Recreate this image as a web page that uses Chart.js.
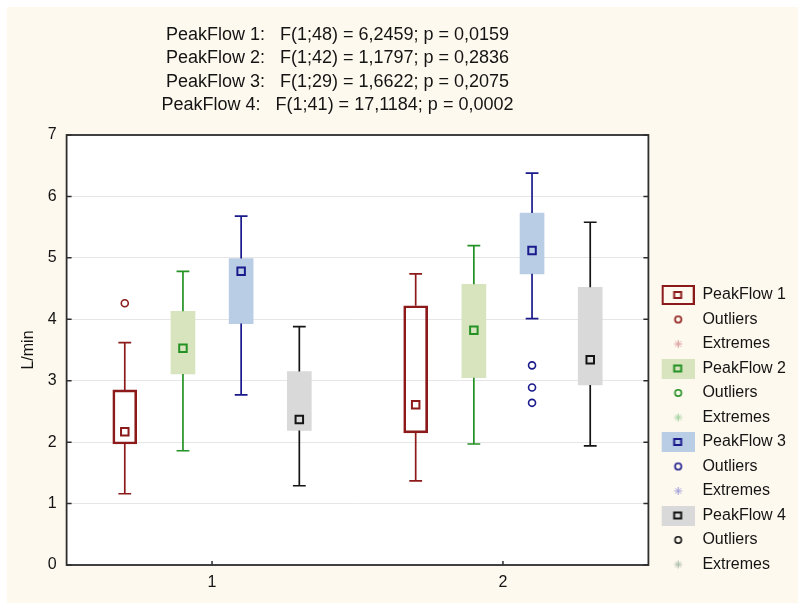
<!DOCTYPE html>
<html>
<head>
<meta charset="utf-8">
<script src="https://cdn.jsdelivr.net/npm/chart.js@4/dist/chart.umd.min.js"></script>
<style>
  html, body { margin: 0; padding: 0; background: #ffffff; }
  #wrap { width: 798px; height: 603px; }
</style>
</head>
<body>
<div id="wrap"><canvas id="c" width="798" height="603"></canvas></div>
<script>
// ---- data ----
const categories = ['1', '2'];
const seriesNames = ['PeakFlow 1', 'PeakFlow 2', 'PeakFlow 3', 'PeakFlow 4'];
const titleLines = [
  'PeakFlow 1:   F(1;48) = 6,2459; p = 0,0159',
  'PeakFlow 2:   F(1;42) = 1,1797; p = 0,2836',
  'PeakFlow 3:   F(1;29) = 1,6622; p = 0,2075',
  'PeakFlow 4:   F(1;41) = 17,1184; p = 0,0002'
];
const yTicks = [0, 1, 2, 3, 4, 5, 6, 7];

const pf1Min = [1.16, 1.37];
const pf1Q1  = [1.97, 2.15];
const pf1Med = [2.17, 2.61];
const pf1Q3  = [2.85, 4.22];
const pf1Max = [3.62, 4.74];
const pf1Out = [[4.26], []];

const pf2Min = [1.86, 1.97];
const pf2Q1  = [3.11, 3.05];
const pf2Med = [3.53, 3.82];
const pf2Q3  = [4.13, 4.57];
const pf2Max = [4.78, 5.20];
const pf2Out = [[], []];

const pf3Min = [2.77, 4.01];
const pf3Q1  = [3.93, 4.74];
const pf3Med = [4.78, 5.12];
const pf3Q3  = [4.99, 5.73];
const pf3Max = [5.68, 6.38];
const pf3Out = [[], [3.25, 2.89, 2.64]];

const pf4Min = [1.29, 1.94];
const pf4Q1  = [2.19, 2.93];
const pf4Med = [2.37, 3.34];
const pf4Q3  = [3.15, 4.52];
const pf4Max = [3.88, 5.58];
const pf4Out = [[], []];

// ---- styling / layout ----
const FONT = "'Liberation Sans', Arial, sans-serif";
const CREAM = '#fef9ee';
const TEXT = '#141414';
const lineColors = ['#8c1a1a', '#249124', '#1a1a8c', '#141414'];
const boxFills   = ['rgba(0,0,0,0)', '#d7e4be', '#b9cde5', '#d9d9d9'];
const boxBorders = [2, 0, 0, 0];
const extremeColors = ['#d9a0a0', '#9fd09f', '#a0a0d9', '#a8bca8'];
const groupOffsets = [-0.3, -0.1, 0.1, 0.3];
const capHalf = 0.022;

const stats = [
  {min: pf1Min, q1: pf1Q1, med: pf1Med, q3: pf1Q3, max: pf1Max, out: pf1Out},
  {min: pf2Min, q1: pf2Q1, med: pf2Med, q3: pf2Q3, max: pf2Max, out: pf2Out},
  {min: pf3Min, q1: pf3Q1, med: pf3Med, q3: pf3Q3, max: pf3Max, out: pf3Out},
  {min: pf4Min, q1: pf4Q1, med: pf4Med, q3: pf4Q3, max: pf4Max, out: pf4Out}
];

const datasets = [];
stats.forEach((s, k) => {
  const xs = categories.map((c, i) => i + 1 + groupOffsets[k]);
  // box (Q1..Q3)
  datasets.push({
    type: 'bar', label: seriesNames[k], order: 3, grouped: false,
    data: xs.map((x, i) => ({x: x, y: [s.q1[i], s.q3[i]]})),
    backgroundColor: boxFills[k], borderColor: lineColors[k],
    borderWidth: boxBorders[k], borderSkipped: false, barThickness: 24
  });
  // whiskers + caps
  const w = [];
  xs.forEach((x, i) => {
    w.push({x: x, y: s.min[i]}, {x: x, y: s.q1[i]}, {x: x, y: null});
    w.push({x: x, y: s.q3[i]}, {x: x, y: s.max[i]}, {x: x, y: null});
    w.push({x: x - capHalf, y: s.max[i]}, {x: x + capHalf, y: s.max[i]}, {x: x, y: null});
    w.push({x: x - capHalf, y: s.min[i]}, {x: x + capHalf, y: s.min[i]}, {x: x, y: null});
  });
  datasets.push({
    type: 'line', label: seriesNames[k] + ' whiskers', order: 2, data: w,
    borderColor: lineColors[k], borderWidth: 1.7, pointRadius: 0, spanGaps: false,
    fill: false, tension: 0
  });
  // median marker
  datasets.push({
    type: 'line', label: seriesNames[k] + ' median', order: 1, showLine: false,
    data: xs.map((x, i) => ({x: x, y: s.med[i]})),
    pointStyle: 'rect', pointRadius: 5.3, borderColor: lineColors[k], borderWidth: 2,
    backgroundColor: 'rgba(0,0,0,0)'
  });
  // outliers
  const o = [];
  xs.forEach((x, i) => s.out[i].forEach(v => o.push({x: x, y: v})));
  datasets.push({
    type: 'line', label: 'Outliers', order: 1, showLine: false, data: o,
    pointStyle: 'circle', pointRadius: 3.5, borderColor: lineColors[k], borderWidth: 1.6,
    backgroundColor: 'rgba(0,0,0,0)'
  });
});

// ---- legend icons (canvases) ----
const ICON_W = 38, ICON_OFF = 5, ICON_CX = 21.5;
function boxIcon(k) {
  const c = document.createElement('canvas'); c.width = ICON_W; c.height = 20;
  const g = c.getContext('2d');
  if (boxBorders[k]) {
    g.strokeStyle = lineColors[k]; g.lineWidth = 2; g.strokeRect(ICON_OFF + 1, 1, 31, 18);
  } else {
    g.fillStyle = boxFills[k]; g.fillRect(ICON_OFF, 0, 33, 20);
  }
  g.strokeStyle = lineColors[k]; g.lineWidth = 2; g.strokeRect(ICON_CX - 4, 7, 7, 6);
  return c;
}
function circleIcon(k) {
  const c = document.createElement('canvas'); c.width = ICON_W; c.height = 12;
  const g = c.getContext('2d');
  g.strokeStyle = lineColors[k]; g.lineWidth = 1.6;
  g.beginPath(); g.arc(ICON_CX, 6, 3.2, 0, Math.PI * 2); g.stroke();
  return c;
}
function starIcon(k) {
  const c = document.createElement('canvas'); c.width = ICON_W; c.height = 12;
  const g = c.getContext('2d');
  const cx = ICON_CX;
  g.strokeStyle = extremeColors[k]; g.lineWidth = 1;
  g.beginPath();
  g.moveTo(cx, 2); g.lineTo(cx, 10);
  g.moveTo(cx - 4, 6); g.lineTo(cx + 4, 6);
  g.moveTo(cx - 2.8, 3.2); g.lineTo(cx + 2.8, 8.8);
  g.moveTo(cx + 2.8, 3.2); g.lineTo(cx - 2.8, 8.8);
  g.stroke();
  return c;
}

const bgPlugin = {
  id: 'bg',
  afterLayout(chart) {
    // let the bottom tick labels draw below the compact x-axis box
    chart.scales.x.bottom = chart.height;
  },
  beforeDraw(chart) {
    const {ctx, chartArea: a} = chart;
    ctx.save();
    ctx.fillStyle = '#ffffff';
    ctx.fillRect(0, 0, chart.width, chart.height);
    ctx.fillStyle = CREAM;
    ctx.fillRect(7, 7, chart.width - 7, chart.height - 7);
    ctx.fillStyle = '#ffffff';
    ctx.fillRect(a.left, a.top, a.right - a.left, a.bottom - a.top);
    ctx.restore();
  }
};

const framePlugin = {
  id: 'frame',
  afterDraw(chart) {
    const {ctx, chartArea: a, scales} = chart;
    ctx.save();
    ctx.strokeStyle = '#2e2e2e';
    ctx.lineWidth = 1.5;
    ctx.beginPath();
    scales.y.ticks.forEach(t => {
      const y = scales.y.getPixelForValue(t.value);
      ctx.moveTo(a.left, y); ctx.lineTo(a.left + 5, y);
      ctx.moveTo(a.right, y); ctx.lineTo(a.right - 5, y);
    });
    scales.x.ticks.forEach(t => {
      const x = scales.x.getPixelForValue(t.value);
      ctx.moveTo(x, a.bottom); ctx.lineTo(x, a.bottom - 4);
    });
    ctx.stroke();
    ctx.lineWidth = 1.8;
    ctx.strokeRect(a.left, a.top, a.right - a.left, a.bottom - a.top);
    // title lines
    ctx.fillStyle = TEXT;
    ctx.font = '18px ' + FONT;
    ctx.textAlign = 'center';
    ctx.textBaseline = 'alphabetic';
    const cx = (a.left + a.right) / 2 - 20;
    titleLines.forEach((t, i) => ctx.fillText(t, cx, 39.5 + i * 23.6));
    ctx.restore();
  }
};

new Chart(document.getElementById('c'), {
  type: 'bar',
  data: {datasets: datasets},
  options: {
    responsive: false,
    animation: false,
    layout: {padding: {top: 135, left: 18.5, right: 2, bottom: 22}},
    plugins: {
      tooltip: {enabled: false},
      title: {display: false},
      legend: {
        position: 'right',
        align: 'end',
        onClick: null,
        labels: {
          font: {family: FONT, size: 16},
          color: TEXT,
          padding: 8.5,
          usePointStyle: true,
          pointStyleWidth: 37.5,
          generateLabels: () => {
            const items = [];
            seriesNames.forEach((n, k) => {
              items.push({text: n, pointStyle: boxIcon(k), fontColor: TEXT, lineWidth: 0, hidden: false});
              items.push({text: 'Outliers', pointStyle: circleIcon(k), fontColor: TEXT, lineWidth: 0, hidden: false});
              items.push({text: 'Extremes', pointStyle: starIcon(k), fontColor: TEXT, lineWidth: 0, hidden: false});
            });
            return items;
          }
        }
      }
    },
    scales: {
      x: {
        type: 'linear', min: 0.5, max: 2.5, offset: false,
        afterBuildTicks: (scale) => { scale.ticks = categories.map((c, i) => ({value: i + 1})); },
        afterFit: (scale) => { scale.height = 16; },
        ticks: {
          callback: (v) => categories[Math.round(v) - 1],
          font: {family: FONT, size: 16}, color: TEXT, padding: 8, maxRotation: 0
        },
        grid: {display: false, drawTicks: false},
        border: {display: false}
      },
      y: {
        min: 0, max: 7,
        afterBuildTicks: (scale) => { scale.ticks = yTicks.map(v => ({value: v})); },
        ticks: {font: {family: FONT, size: 16}, color: TEXT, padding: 10},
        grid: {color: '#e6e6e6', lineWidth: 1, drawTicks: false},
        border: {display: false},
        title: {display: true, text: 'L/min', font: {family: FONT, size: 16}, color: TEXT, padding: {top: 0, bottom: 0}}
      }
    }
  },
  plugins: [bgPlugin, framePlugin]
});
</script>
</body>
</html>
